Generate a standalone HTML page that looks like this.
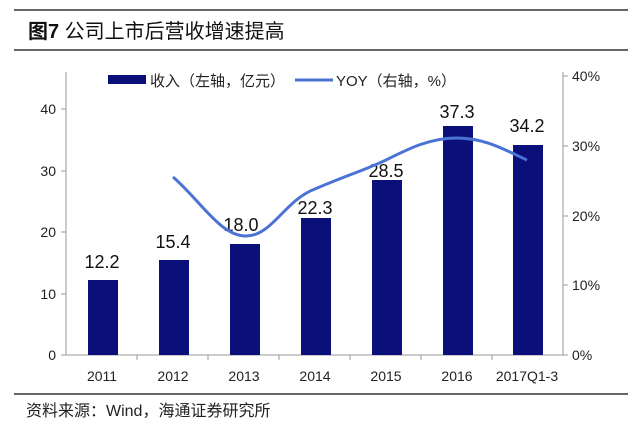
<!DOCTYPE html><html><head><meta charset="utf-8"><style>body{margin:0;background:#fff}svg{display:block}text{font-family:"Liberation Sans","Noto Sans CJK SC",sans-serif}</style></head><body>
<svg width="640" height="423" viewBox="0 0 640 423">
<line x1="14" y1="10" x2="628" y2="10" stroke="#333" stroke-width="1.5"/>
<line x1="14" y1="50" x2="628" y2="50" stroke="#333" stroke-width="1.5"/>
<line x1="14" y1="394" x2="628" y2="394" stroke="#333" stroke-width="1.5"/>
<text x="28" y="38" font-size="20" fill="#111"><tspan font-weight="bold">图7</tspan>  公司上市后营收增速提高</text>
<text x="26" y="416" font-size="16" fill="#222">资料来源：Wind，海通证券研究所</text>
<g stroke="#999" stroke-width="1" fill="none">
<line x1="66" y1="72" x2="66" y2="355"/><line x1="563" y1="72" x2="563" y2="355"/>
<line x1="66" y1="355" x2="563" y2="355"/>
<path d="M61 109H66M61 171H66M61 232H66M61 294H66M61 355H66"/>
<path d="M563 76H568M563 146H568M563 216H568M563 285H568M563 355H568"/>
<path d="M137 355v5M208 355v5M279 355v5M350 355v5M421 355v5M492 355v5"/>
</g>
<g font-size="14" fill="#222" text-anchor="end">
<text x="56" y="114">40</text><text x="56" y="176">30</text><text x="56" y="237">20</text><text x="56" y="299">10</text><text x="56" y="360">0</text>
</g>
<g font-size="14" fill="#222">
<text x="572" y="81">40%</text><text x="572" y="151">30%</text><text x="572" y="221">20%</text><text x="572" y="290">10%</text><text x="572" y="360">0%</text>
</g>
<g font-size="14" fill="#222" text-anchor="middle">
<text x="102" y="381">2011</text><text x="173" y="381">2012</text><text x="244" y="381">2013</text><text x="315" y="381">2014</text><text x="386" y="381">2015</text><text x="457" y="381">2016</text><text x="527" y="381">2017Q1-3</text>
</g>
<g fill="#0a0f7a">
<rect x="88" y="280" width="30" height="75"/><rect x="159" y="260" width="30" height="95"/><rect x="230" y="244" width="30" height="111"/><rect x="301" y="218" width="30" height="137"/><rect x="372" y="180" width="30" height="175"/><rect x="443" y="126" width="30" height="229"/><rect x="513" y="145" width="30" height="210"/>
<rect x="108" y="75" width="38" height="9"/>
</g>
<g font-size="18" fill="#111" text-anchor="middle">
<text x="102" y="268">12.2</text><text x="173" y="248">15.4</text><text x="241" y="231">18.0</text><text x="315" y="214">22.3</text><text x="386" y="177">28.5</text><text x="457" y="118">37.3</text><text x="527" y="132">34.2</text>
</g>
<path d="M173 177 C200 200,220 236,246 236 C272 236,285 200,315 189 C345 176,365 170,386 160 C410 148,430 138,457 138 C485 138,505 150,527 160" stroke="#4b73d6" stroke-width="3" fill="none"/>
<line x1="295" y1="80" x2="333" y2="80" stroke="#4b73d6" stroke-width="3"/>
<text x="150" y="86" font-size="15" fill="#222">收入（左轴，亿元）</text>
<text x="336" y="86" font-size="15" fill="#222">YOY（右轴，%）</text>
</svg></body></html>
